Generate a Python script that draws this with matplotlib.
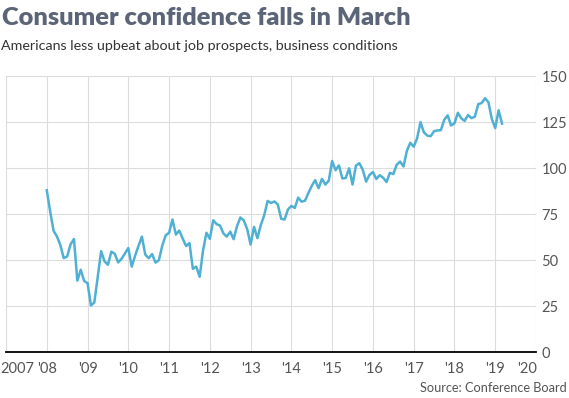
import matplotlib
matplotlib.use("Agg")
import matplotlib.pyplot as plt
import matplotlib.transforms as mtransforms
import numpy as np

# Monthly index values, Jan 2008 - Mar 2019
values = [
    87.9, 76.4, 65.9, 62.8, 58.1, 51.0, 51.9, 58.5, 61.4, 38.8, 44.7, 38.6,   # 2008
    37.4, 25.3, 26.9, 40.8, 54.8, 49.3, 47.4, 54.5, 53.4, 48.7, 50.6, 53.6,   # 2009
    56.5, 46.4, 52.3, 57.7, 62.7, 52.9, 51.0, 53.2, 48.6, 49.9, 57.8, 63.4,   # 2010
    64.8, 72.0, 63.8, 66.0, 61.7, 57.6, 59.2, 45.2, 46.4, 40.9, 55.2, 64.8,   # 2011
    61.5, 71.6, 69.5, 68.7, 64.4, 62.7, 65.4, 61.3, 68.4, 73.1, 71.5, 66.7,   # 2012
    58.4, 68.0, 61.9, 69.0, 74.3, 82.1, 81.0, 81.8, 80.2, 72.4, 72.0, 77.5,   # 2013
    79.4, 78.3, 83.9, 81.7, 82.2, 86.4, 90.3, 93.4, 89.0, 94.1, 91.0, 93.1,   # 2014
    103.8, 98.8, 101.4, 94.3, 94.6, 99.8, 91.0, 101.3, 102.6, 99.1, 92.6, 96.3,  # 2015
    97.8, 94.0, 96.1, 94.7, 92.4, 97.4, 96.7, 101.8, 103.5, 100.8, 109.4, 113.7,  # 2016
    111.6, 116.1, 124.9, 119.4, 117.6, 117.3, 120.0, 120.4, 120.6, 126.2, 128.6, 123.1,  # 2017
    124.3, 130.0, 127.0, 125.6, 128.8, 127.1, 127.9, 134.7, 135.3, 137.9, 135.7, 126.6,  # 2018
    121.7, 131.4, 124.1,  # 2019
]
start_year = 2008
x_ticks = list(range(2007, 2021))
x_labels = ["2007", "'08", "'09", "'10", "'11", "'12", "'13", "'14", "'15", "'16", "'17", "'18", "'19", "'20"]
y_ticks = [0, 25, 50, 75, 100, 125, 150]

dates = [start_year + i / 12 for i in range(len(values))]

fig = plt.figure(figsize=(5.69, 3.98), dpi=100)
W, H = 569, 398
ax = fig.add_axes([6 / W, (H - 352) / H, (536 - 6) / W, (352 - 76) / H])

ax.plot(dates, values, color="#4fb0d4", lw=1.8, solid_joinstyle="round", zorder=3)

ax.set_xlim(2007, 2020)
ax.set_ylim(0, 150)
ax.set_xticks(x_ticks)
ax.set_xticklabels(x_labels)
ax.set_yticks(y_ticks)
ax.yaxis.tick_right()
ax.grid(True, color="#dcdcdc", lw=0.8, zorder=0)
for s in ["top", "left", "right"]:
    ax.spines[s].set_visible(False)
ax.spines["bottom"].set_color("black")
ax.spines["bottom"].set_linewidth(1.3)
ax.spines["bottom"].set_zorder(4)
ax.tick_params(axis="both", length=0, labelsize=10.5, labelcolor="#555555")
ax.tick_params(axis="x", pad=7)
ax.tick_params(axis="y", pad=4)
for lab in ax.get_xticklabels() + ax.get_yticklabels():
    lab.set_fontfamily("Lato")

xl = ax.get_xticklabels()
xl[0].set_horizontalalignment("left")
xl[0].set_transform(xl[0].get_transform() + mtransforms.ScaledTranslation(-6 / 100, 0, fig.dpi_scale_trans))
xl[-1].set_horizontalalignment("right")
xl[-1].set_transform(xl[-1].get_transform() + mtransforms.ScaledTranslation(1 / 100, 0, fig.dpi_scale_trans))

fig.text(2 / W, 1 - 18 / H, "Consumer confidence falls in March", fontsize=18.3,
         fontweight="heavy", family="Lato", color="#5b6577", va="center", ha="left")
fig.text(1 / W, 1 - 46 / H, "Americans less upbeat about job prospects, business conditions",
         fontsize=10.3, family="Lato", color="#333333", va="center", ha="left")
fig.text(567 / W, 1 - 388 / H, "Source: Conference Board", fontsize=9.2,
         family="Lato", color="#555555", va="center", ha="right")

fig.savefig("out.png", dpi=100)
